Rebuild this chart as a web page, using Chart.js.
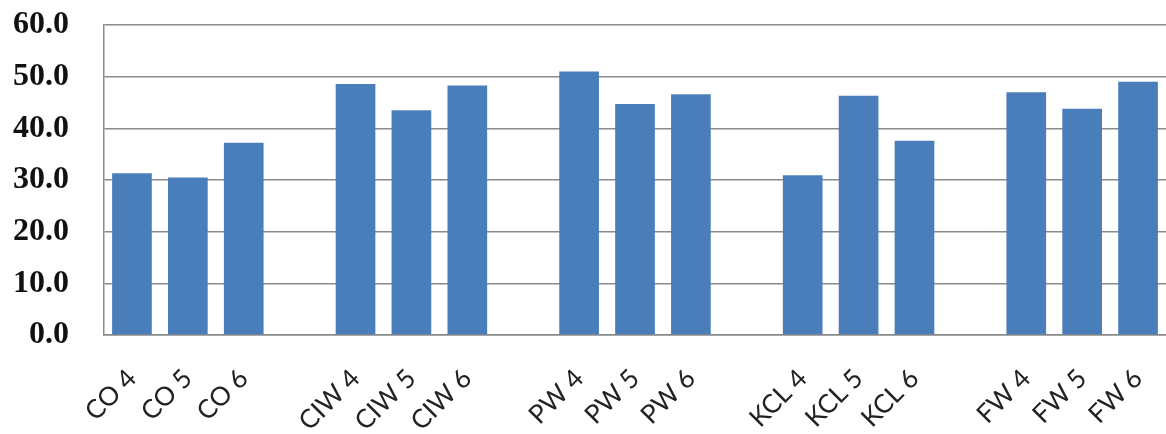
<!DOCTYPE html>
<html>
<head>
<meta charset="utf-8">
<script src="https://cdn.jsdelivr.net/npm/chart.js@4"></script>
<style>
  html, body { margin: 0; padding: 0; background: #ffffff; overflow: hidden; }
  #wrap { width: 1166px; height: 434px; }
</style>
</head>
<body>
<div id="wrap"><canvas id="chart" width="1166" height="434"></canvas></div>
<script>
// Sample groups; an empty label leaves a gap between groups
const categories = [
  'CO 4', 'CO 5', 'CO 6', '',
  'CIW 4', 'CIW 5', 'CIW 6', '',
  'PW 4', 'PW 5', 'PW 6', '',
  'KCL 4', 'KCL 5', 'KCL 6', '',
  'FW 4', 'FW 5', 'FW 6'
];
const values = [
  31.3, 30.5, 37.2, null,
  48.6, 43.5, 48.3, null,
  51.0, 44.7, 46.6, null,
  30.9, 46.3, 37.6, null,
  47.0, 43.8, 49.0
];
const yTicks = [0, 10, 20, 30, 40, 50, 60];

const gridGrey = '#8a8a8a';

new Chart(document.getElementById('chart'), {
  type: 'bar',
  data: {
    labels: categories,
    datasets: [{
      data: values,
      backgroundColor: '#4a7ebb',
      borderWidth: 0,
      barPercentage: 0.71,
      categoryPercentage: 1.0
    }]
  },
  options: {
    responsive: false,
    animation: false,
    events: [],
    layout: { autoPadding: false, padding: { top: 25, right: 0, left: 0, bottom: 0 } },
    plugins: { legend: { display: false }, tooltip: { enabled: false } },
    scales: {
      x: {
        grid: { display: false, drawTicks: false },
        border: { display: true, color: gridGrey, width: 1.5 },
        ticks: {
          autoSkip: false,
          minRotation: 45,
          maxRotation: 45,
          padding: 28,
          color: '#222222',
          font: { family: 'Lato, "Open Sans", sans-serif', size: 26 }
        },
        afterFit: (s) => { s.height = 99; s.paddingLeft = 0; s.paddingRight = 0; }
      },
      y: {
        min: 0,
        max: 60,
        afterBuildTicks: (s) => { s.ticks = yTicks.map(v => ({ value: v })); },
        grid: { color: gridGrey, lineWidth: 1.5, drawTicks: false },
        border: { display: true, color: gridGrey, width: 1.5 },
        ticks: {
          padding: 35,
          color: '#111111',
          font: { family: '"Liberation Serif", "Times New Roman", serif', size: 32, weight: 'bold' },
          callback: (v) => Number(v).toFixed(1)
        },
        afterFit: (s) => { s.width = 104; s.paddingTop = 0; s.paddingBottom = 0; }
      }
    }
  }
});
</script>
</body>
</html>
